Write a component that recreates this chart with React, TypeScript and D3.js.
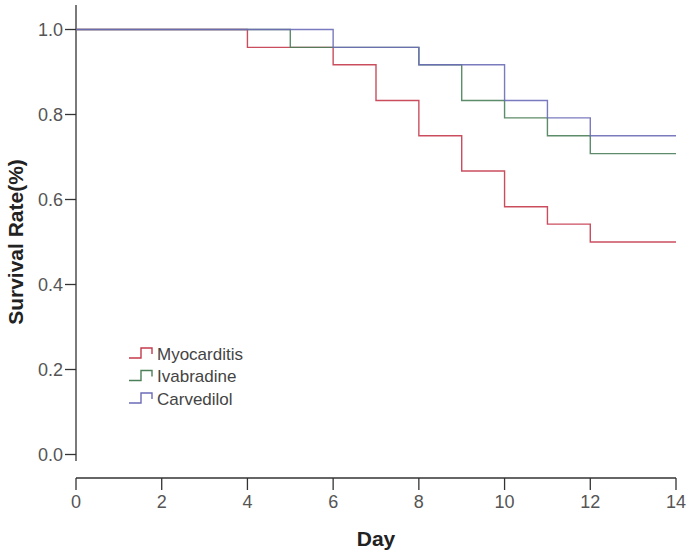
import React from "react";
import * as d3 from "d3";

const xTicks = [0, 2, 4, 6, 8, 10, 12, 14];
const yTicks = [0, 0.2, 0.4, 0.6, 0.8, 1.0];

const seriesNames = ["Myocarditis", "Ivabradine", "Carvedilol"];
const seriesColors = ["#c43a4c", "#4b7f5a", "#6b6bb8"];

const myoDays = [0, 4, 6, 7, 8, 9, 10, 11, 12, 14];
const myoSurv = [1, 0.958, 0.917, 0.833, 0.75, 0.667, 0.583, 0.542, 0.5, 0.5];
const ivaDays = [0, 5, 8, 9, 10, 11, 12, 14];
const ivaSurv = [1, 0.958, 0.917, 0.833, 0.792, 0.75, 0.708, 0.708];
const carDays = [0, 6, 8, 10, 11, 12, 14];
const carSurv = [1, 0.958, 0.917, 0.833, 0.792, 0.75, 0.75];

const seriesDays = [myoDays, ivaDays, carDays];
const seriesSurv = [myoSurv, ivaSurv, carSurv];

export default function App() {
  const W = 691;
  const H = 557;
  const x = d3.scaleLinear().domain([0, 14]).range([76, 676]);
  const y = d3.scaleLinear().domain([0, 1]).range([454.5, 29.5]);
  const xAxisY = 478;
  const line = d3
    .line<[number, number]>()
    .x((d) => x(d[0]))
    .y((d) => y(d[1]))
    .curve(d3.curveStepAfter);

  const tickFont = "'Liberation Sans Narrow', 'Arial Narrow', 'Liberation Sans', Arial, sans-serif";
  const textFont = "'Liberation Sans', Arial, sans-serif";

  return (
    <svg
      width={W}
      height={H}
      style={{ position: "absolute", left: 0, top: 0, background: "#fff" }}
    >
      <rect x={0} y={0} width={W} height={H} fill="#fff" />
      {/* Y axis */}
      <line x1={x(0)} x2={x(0)} y1={5} y2={y(-0.015)} stroke="#333" strokeWidth={1.3} />
      {yTicks.map((t) => (
        <g key={"yt" + t}>
          <line x1={x(0) - 11} x2={x(0)} y1={y(t)} y2={y(t)} stroke="#333" strokeWidth={1.3} />
          <text
            x={x(0) - 13}
            y={y(t)}
            dy="0.35em"
            textAnchor="end"
            fontFamily={tickFont}
            fontSize={18}
            fill="#555"
          >
            {t.toFixed(1)}
          </text>
        </g>
      ))}
      {/* X axis */}
      <line x1={x(0)} x2={x(14)} y1={xAxisY} y2={xAxisY} stroke="#333" strokeWidth={1.3} />
      {xTicks.map((t) => (
        <g key={"xt" + t}>
          <line x1={x(t)} x2={x(t)} y1={xAxisY} y2={xAxisY + 12} stroke="#333" strokeWidth={1.3} />
          <text
            x={x(t)}
            y={xAxisY + 24}
            dy="0.35em"
            textAnchor="middle"
            fontFamily={tickFont}
            fontSize={18}
            fill="#555"
          >
            {t}
          </text>
        </g>
      ))}
      {/* Axis titles */}
      <text
        x={(x(0) + x(14)) / 2}
        y={539}
        dy="0.35em"
        textAnchor="middle"
        fontFamily={textFont}
        fontWeight="bold"
        fontSize={21}
        fill="#222"
      >
        Day
      </text>
      <text
        transform={`translate(16,${y(0.5)}) rotate(-90)`}
        dy="0.35em"
        textAnchor="middle"
        fontFamily={textFont}
        fontWeight="bold"
        fontSize={21}
        fill="#222"
      >
        Survival Rate(%)
      </text>
      {/* Survival curves */}
      {seriesNames.map((name, i) => {
        const pts: [number, number][] = seriesDays[i].map((d, j) => [d, seriesSurv[i][j]]);
        return (
          <path
            key={name}
            d={line(pts) || ""}
            fill="none"
            stroke={seriesColors[i]}
            strokeWidth={1.4}
            strokeOpacity={0.9}
          />
        );
      })}
      {/* Legend */}
      {seriesNames.map((name, i) => {
        const cy = 354 + i * 22.5;
        return (
          <g key={"lg" + name}>
            <path
              d={`M129,${cy + 4} H141 V${cy - 6} H152 V${cy}`}
              fill="none"
              stroke={seriesColors[i]}
              strokeWidth={1.4}
            />
            <text
              x={157}
              y={cy}
              dy="0.35em"
              fontFamily={textFont}
              fontSize={17}
              fill="#444"
            >
              {name}
            </text>
          </g>
        );
      })}
    </svg>
  );
}
